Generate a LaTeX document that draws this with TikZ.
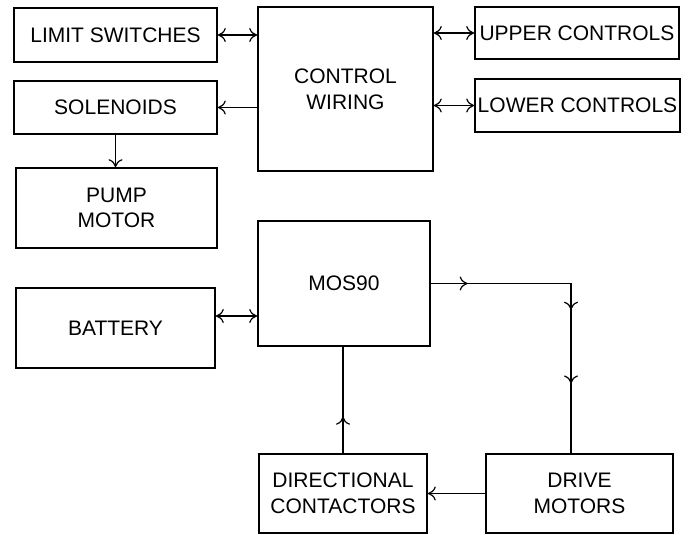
\documentclass[tikz,border=0pt]{standalone}
\usepackage{fontspec}
\setmainfont{Liberation Sans}
\usetikzlibrary{arrows.meta,decorations.markings}

\tikzset{
  blk/.style={draw, line width=0.8pt, align=center, inner sep=0pt,
    font=\fontsize{10.5}{12.8}\selectfont},
  midarrow/.style={postaction={decorate,
    decoration={markings, mark=at position #1 with {\arrow{>}}}}}
}

\begin{document}
\begin{tikzpicture}[x=0.5pt, y=-0.5pt, line width=0.8pt,
  >={Computer Modern Rightarrow[length=4pt,width=7pt,line width=0.6pt]}]
  \useasboundingbox (0,0) rectangle (692,535);
  % left column
  \node[blk, minimum width=101.5pt, minimum height=27pt] (lim) at (115.5,35) {LIMIT SWITCHES};
  \node[blk, minimum width=101.5pt, minimum height=26.5pt] (sol) at (115.5,107.5) {SOLENOIDS};
  \node[blk, minimum width=100.5pt, minimum height=40pt] (pump) at (116.5,208) {PUMP\\MOTOR};
  \node[blk, minimum width=99.5pt, minimum height=40pt] (bat) at (115.5,328) {BATTERY};
  % middle
  \node[blk, minimum width=87.5pt, minimum height=82pt] (ctrl) at (345.5,89) {CONTROL\\WIRING};
  \node[blk, minimum width=86pt, minimum height=62.5pt] (mos) at (344,283.5) {MOS90};
  \node[blk, minimum width=84pt, minimum height=39.5pt] (dir) at (343,493.5) {DIRECTIONAL\\CONTACTORS};
  % right column
  \node[blk, minimum width=102pt, minimum height=26pt] (upper) at (577,33) {UPPER CONTROLS};
  \node[blk, minimum width=102.5pt, minimum height=26.5pt] (lower) at (577.5,105.5) {LOWER CONTROLS};
  \node[blk, minimum width=93.5pt, minimum height=39.5pt] (drive) at (579.5,493.5) {DRIVE\\MOTORS};

  \draw[<->] (lim.east) -- (lim.east -| ctrl.west);
  \draw[->] (sol.east -| ctrl.west) -- (sol.east);
  \draw[<->] (upper.west -| ctrl.east) -- (upper.west);
  \draw[<->] (lower.west -| ctrl.east) -- (lower.west);
  \draw[->] (sol.south) -- (sol.south |- pump.north);
  \draw[<->] ([yshift=6pt]bat.east) -- ([yshift=6pt]bat.east -| mos.west);
  \draw[midarrow=0.119, midarrow=0.537, midarrow=0.775]
    (mos.east) -| ([xshift=-4.25pt]drive.north);
  \draw[->] (drive.west) -- (dir.east);
  \draw[midarrow=0.343] (dir.north) -- (dir.north |- mos.south);
\end{tikzpicture}
\end{document}
